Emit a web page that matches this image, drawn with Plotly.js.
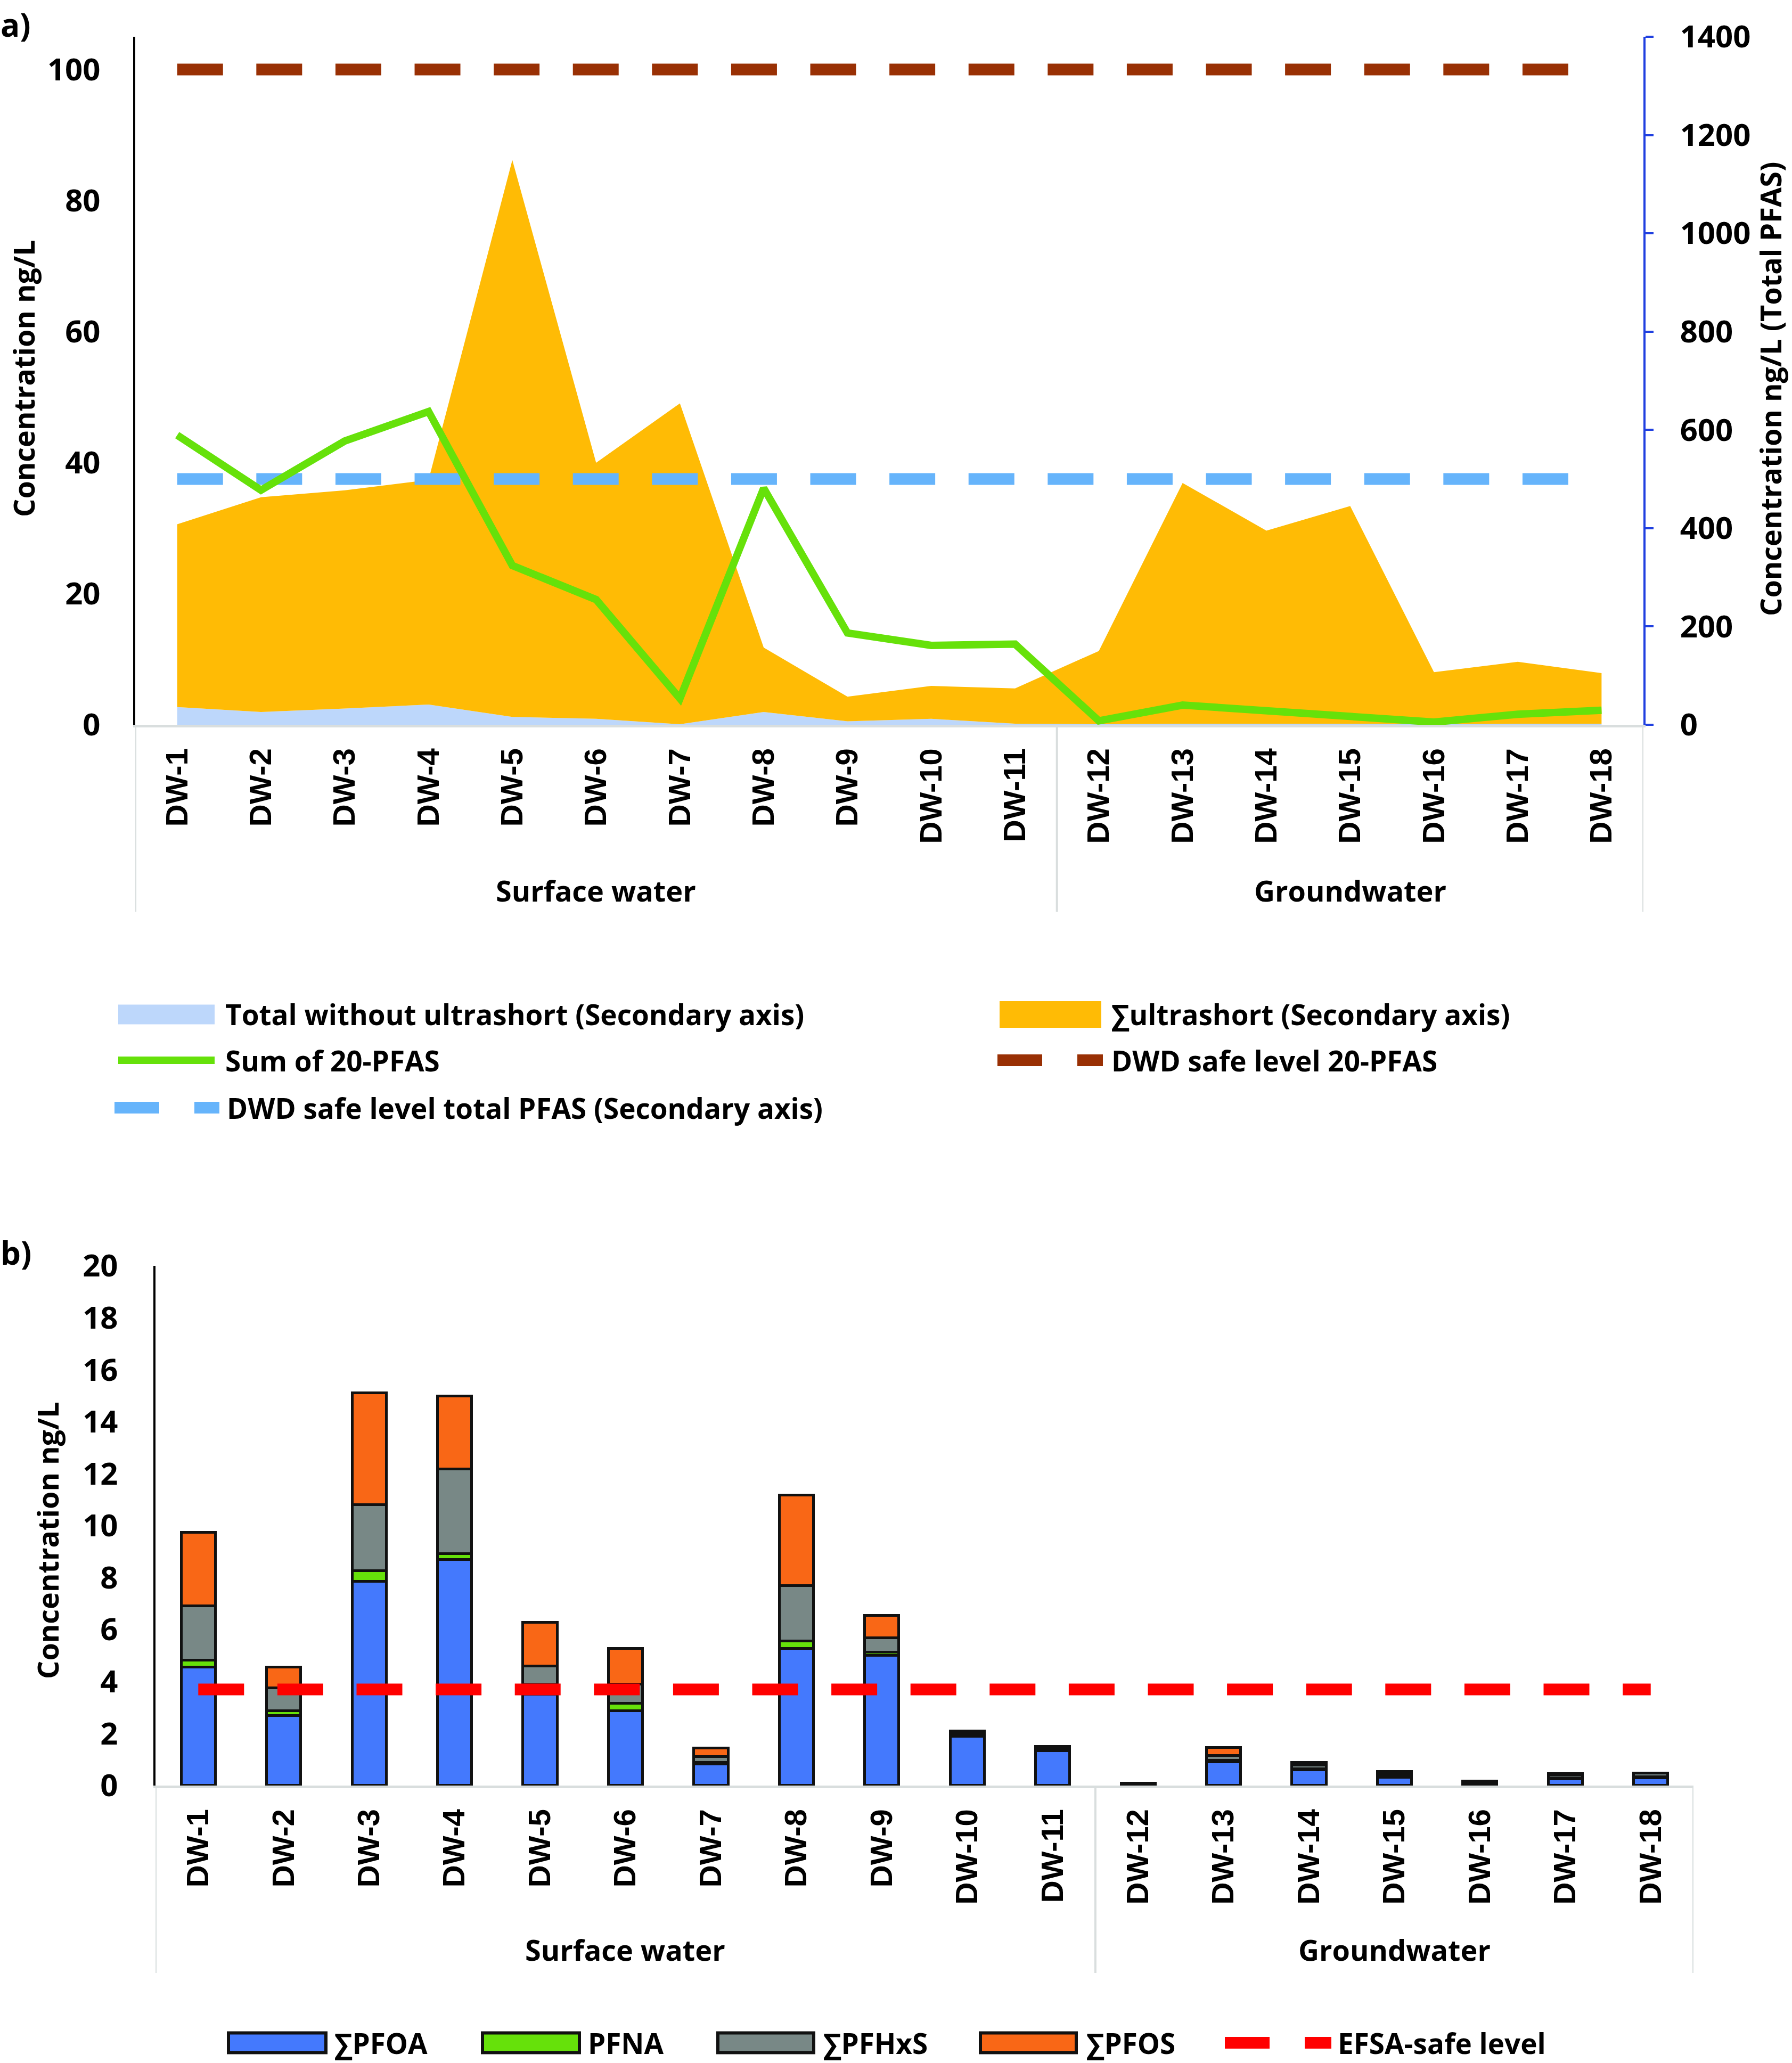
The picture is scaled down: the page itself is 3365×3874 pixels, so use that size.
<!DOCTYPE html>
<html>
<head>
<meta charset="utf-8">
<script src="https://cdn.plot.ly/plotly-3.0.1.min.js"></script>
<style>
  html, body { margin: 0; padding: 0; background: #fff; }
  #chart { width: 3365px; height: 3874px; }
</style>
</head>
<body>
<div id="chart"></div>
<script>
// sampling sites
const sites = ['DW-1', 'DW-2', 'DW-3', 'DW-4', 'DW-5', 'DW-6', 'DW-7', 'DW-8', 'DW-9',
    'DW-10', 'DW-11', 'DW-12', 'DW-13', 'DW-14', 'DW-15', 'DW-16', 'DW-17', 'DW-18'];
const groupLabels = ['Surface water', 'Groundwater'];
const groupCenters = [5, 14];      // category index of each group centre
const groupEdges = [-0.5, 10.5, 17.5];

// panel a) - secondary axis (total PFAS, ng/L)
const totalWithoutUltrashort = [36, 26, 33, 41, 16, 12, 1, 26, 7, 12, 2, 1, 2, 2, 2, 1, 2, 2];
const ultrashort = [372, 437, 444, 457, 1133, 521, 653, 131, 50, 67, 72, 149, 490, 393, 443, 106, 126, 103];
// panel a) - primary axis
const sum20PFAS = [44.2, 35.8, 43.3, 47.8, 24.3, 19.1, 4.0, 36.1, 14.0, 12.1, 12.3, 0.6, 3.0, 2.2, 1.2, 0.4, 1.6, 2.2];
const dwdSafe20 = 100;
const dwdSafeTotal = 500;

// panel b) - stacked components
const pfoa = [4.55, 2.7, 7.85, 8.7, 3.52, 2.88, 0.82, 5.27, 5.0, 1.9, 1.35, 0.03, 0.92, 0.6, 0.32, 0.05, 0.26, 0.3];
const pfna = [0.28, 0.18, 0.42, 0.22, 0.36, 0.28, 0.08, 0.29, 0.13, 0.02, 0.02, 0.01, 0.06, 0.04, 0.03, 0.02, 0.03, 0.03];
const pfhxs = [2.08, 0.88, 2.54, 3.27, 0.72, 0.75, 0.21, 2.13, 0.55, 0.1, 0.1, 0.04, 0.18, 0.14, 0.1, 0.06, 0.12, 0.15];
const pfos = [2.84, 0.79, 4.3, 2.8, 1.69, 1.36, 0.33, 3.49, 0.86, 0.08, 0.03, 0.02, 0.3, 0.12, 0.1, 0.04, 0.04, 0.01];
const efsaSafe = 3.7;

const W = 3365, H = 3874;
const flat = v => sites.map(() => v);
const dash = '86px,62.6px';

const colors = {
    totalWo: '#bdd7fb', ultra: '#ffbb05', sum20: '#66e10a', dwd20: '#993004', dwdTotal: '#66b4fb',
    pfoa: '#4479fd', pfna: '#66e10a', pfhxs: '#788886', pfos: '#f96716', efsa: '#ff0000'
};

// y = secondary (right) axis, drawn underneath; y2 = primary left axis on top
const tracesA = [
    {x: sites, y: totalWithoutUltrashort, name: 'Total without ultrashort (Secondary axis)', type: 'scatter',
     mode: 'lines', stackgroup: 'a', line: {width: 0}, fillcolor: colors.totalWo, xaxis: 'x', yaxis: 'y'},
    {x: sites, y: ultrashort, name: '∑ultrashort (Secondary axis)', type: 'scatter',
     mode: 'lines', stackgroup: 'a', line: {width: 0}, fillcolor: colors.ultra, xaxis: 'x', yaxis: 'y'},
    {x: sites, y: flat(dwdSafeTotal), name: 'DWD safe level total PFAS (Secondary axis)', type: 'scatter',
     mode: 'lines', line: {color: colors.dwdTotal, width: 22, dash: dash}, xaxis: 'x', yaxis: 'y'},
    {x: sites, y: sum20PFAS, name: 'Sum of 20-PFAS', type: 'scatter', mode: 'lines',
     line: {color: colors.sum20, width: 14}, xaxis: 'x', yaxis: 'y2'},
    {x: sites, y: flat(dwdSafe20), name: 'DWD safe level 20-PFAS', type: 'scatter', mode: 'lines',
     line: {color: colors.dwd20, width: 22, dash: dash}, xaxis: 'x', yaxis: 'y2'}
];

const barLine = {color: '#111', width: 5};
const tracesB = [
    {x: sites, y: pfoa, name: '∑PFOA', type: 'bar', marker: {color: colors.pfoa, line: barLine}},
    {x: sites, y: pfna, name: 'PFNA', type: 'bar', marker: {color: colors.pfna, line: barLine}},
    {x: sites, y: pfhxs, name: '∑PFHxS', type: 'bar', marker: {color: colors.pfhxs, line: barLine}},
    {x: sites, y: pfos, name: '∑PFOS', type: 'bar', marker: {color: colors.pfos, line: barLine}},
    {x: sites, y: flat(efsaSafe), name: 'EFSA-safe level', type: 'scatter', mode: 'lines',
     line: {color: colors.efsa, width: 22, dash: dash}}
].map(t => Object.assign(t, {xaxis: 'x2', yaxis: 'y3'}));

const allTraces = tracesA.concat(tracesB);
allTraces.forEach(t => { t.showlegend = false; });

const labelFont = {family: 'Open Sans', size: 54, weight: 700, color: '#000'};
const tickFont = {family: 'Open Sans', size: 58, weight: 700, color: '#000'};
const catFont = {family: 'Liberation Sans', size: 58, weight: 700, color: '#000'};
const legendFont = {family: 'Open Sans', size: 53, weight: 700, color: '#000'};

function catAxis(domain, anchor) {
    return {
        domain: domain, anchor: anchor, type: 'category', range: [-0.5, 17.5],
        showline: true, linecolor: '#d9dede', linewidth: 5, ticks: '', tickangle: -90,
        tickfont: catFont, ticklabelstandoff: 16, showgrid: false, zeroline: false, automargin: false
    };
}

const domA = [0.6487, 0.9822];
const domB = [0.1345, 0.3864];

// group divider lines below each category axis
const shapes = [];
groupEdges.forEach(e => {
    shapes.push({type: 'line', xref: 'x', yref: 'paper', x0: e, x1: e, y0: domA[0], y1: 0.558,
        line: {color: '#d9dede', width: 4}});
    shapes.push({type: 'line', xref: 'x2', yref: 'paper', x0: e, x1: e, y0: domB[0], y1: 0.0436,
        line: {color: '#d9dede', width: 4}});
});

function txt(text, xPx, yPx, font, extra) {
    return Object.assign({text: text, xref: 'paper', yref: 'paper', x: xPx / W, y: 1 - yPx / H,
        xanchor: 'center', yanchor: 'middle', showarrow: false, borderpad: 0, font: font}, extra || {});
}

const annotations = [
    txt('a)', 0, 46, {family: 'Open Sans', size: 60, weight: 700}, {xanchor: 'left'}),
    txt('b)', 0, 2352, {family: 'Open Sans', size: 60, weight: 700}, {xanchor: 'left'}),
    txt('Concentration ng/L', 44, 711, labelFont, {textangle: -90}),
    txt('Concentration ng/L (Total PFAS)', 3324, 731, labelFont, {textangle: -90}),
    txt('Concentration ng/L', 89, 2893, labelFont, {textangle: -90})
];
groupLabels.forEach((g, i) => {
    annotations.push({text: g, xref: 'x', yref: 'paper', x: groupCenters[i], y: 0.5684, xanchor: 'center',
        yanchor: 'middle', showarrow: false, font: labelFont});
    annotations.push({text: g, xref: 'x2', yref: 'paper', x: groupCenters[i], y: 0.055, xanchor: 'center',
        yanchor: 'middle', showarrow: false, font: labelFont});
});

// legend entries: kind, swatch start/end (px), row centre (px), label start (px)
const legendItems = [
    {trace: 0, kind: 'fill', x0: 222, x1: 403, y: 1905, h: 37, tx: 422},
    {trace: 1, kind: 'fill', x0: 1877, x1: 2068, y: 1905, h: 50, tx: 2086},
    {trace: 3, kind: 'line', x0: 222, x1: 403, y: 1991, tx: 422},
    {trace: 4, kind: 'line', x0: 1873, x1: 2071, y: 1991, tx: 2086},
    {trace: 2, kind: 'line', x0: 215, x1: 412, y: 2080, tx: 425},
    {trace: 5, kind: 'bar', x0: 429, x1: 612, y: 3836, h: 37, tx: 627},
    {trace: 6, kind: 'bar', x0: 906, x1: 1088, y: 3836, h: 37, tx: 1103},
    {trace: 7, kind: 'bar', x0: 1348, x1: 1528, y: 3836, h: 37, tx: 1545},
    {trace: 8, kind: 'bar', x0: 1841, x1: 2021, y: 3836, h: 37, tx: 2039},
    {trace: 9, kind: 'line', x0: 2300, x1: 2500, y: 3836, tx: 2511}
];
legendItems.forEach(it => {
    const t = allTraces[it.trace];
    const px = v => v / W, py = v => 1 - v / H;
    if (it.kind === 'line') {
        shapes.push({type: 'line', xref: 'paper', yref: 'paper', x0: px(it.x0), x1: px(it.x1),
            y0: py(it.y), y1: py(it.y),
            line: {color: t.line.color, width: t.line.dash ? 22 : 14, dash: t.line.dash ? '84px,66px' : 'solid'}});
    } else {
        const fill = it.kind === 'fill' ? t.fillcolor : t.marker.color;
        shapes.push({type: 'rect', xref: 'paper', yref: 'paper', x0: px(it.x0), x1: px(it.x1),
            y0: py(it.y - it.h / 2), y1: py(it.y + it.h / 2), fillcolor: fill,
            line: it.kind === 'bar' ? {color: '#111', width: 6} : {width: 0}});
    }
    annotations.push(txt(t.name, it.tx, it.y, legendFont, {xanchor: 'left'}));
});

const layout = {
    width: W, height: H,
    margin: {l: 0, r: 0, t: 0, b: 0},
    paper_bgcolor: '#fff', plot_bgcolor: '#fff',
    font: labelFont,
    showlegend: false,
    barmode: 'stack', bargap: 0.6,
    xaxis: catAxis([0.0755, 0.9171], 'y'),
    yaxis: {domain: domA, anchor: 'x', side: 'right', range: [0, 1400], dtick: 200, tickfont: tickFont,
        showline: true, linecolor: '#2040e0', linewidth: 4, ticks: 'outside', ticklen: 15, tickwidth: 4,
        tickcolor: '#2040e0', showgrid: false, zeroline: false, ticklabelstandoff: 38, automargin: false},
    yaxis2: {overlaying: 'y', side: 'left', anchor: 'x', range: [0, 105], tickvals: [0, 20, 40, 60, 80, 100],
        tickfont: tickFont, showline: true, linecolor: '#000', linewidth: 4, ticks: '', showgrid: false,
        zeroline: false, ticklabelstandoff: 50, automargin: false},
    xaxis2: catAxis([0.0868, 0.9450], 'y3'),
    yaxis3: {domain: domB, anchor: 'x2', range: [0, 20], dtick: 2, tickfont: tickFont,
        showline: true, linecolor: '#000', linewidth: 4, ticks: '', showgrid: false, zeroline: false,
        ticklabelstandoff: 55, automargin: false},
    shapes: shapes,
    annotations: annotations
};

Plotly.newPlot('chart', allTraces, layout, {displayModeBar: false});
</script>
</body>
</html>
